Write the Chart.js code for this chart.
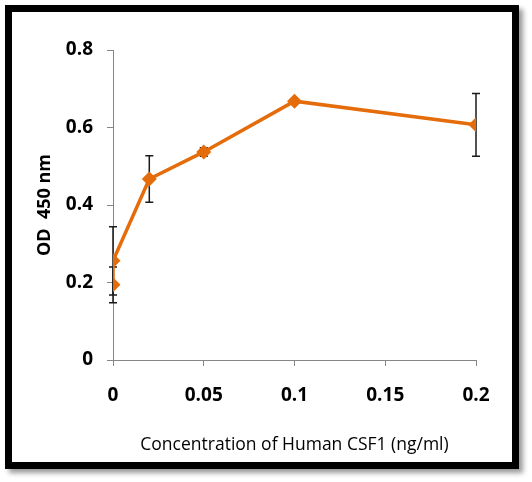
<!DOCTYPE html>
<html>
<head>
<meta charset="utf-8">
<script src="https://cdn.jsdelivr.net/npm/chart.js@4"></script>
<style>
  html, body { margin: 0; padding: 0; background: #fff; }
  #wrap { position: relative; width: 532px; height: 482px; }
  #frame {
    position: absolute; left: 5px; top: 5px; width: 514px; height: 464px;
    box-sizing: border-box; border: 7px solid #000;
    box-shadow: 4px 4px 5px rgba(0, 0, 0, 0.4);
    pointer-events: none;
  }
</style>
</head>
<body>
<div id="wrap">
  <canvas id="myChart" width="532" height="482"></canvas>
  <div id="frame"></div>
</div>
<script>
// concentration (ng/ml), OD 450 nm and error (+/-)
const conc = [0, 0, 0.02, 0.05, 0.1, 0.2]
const od = [0.194, 0.256, 0.467, 0.537, 0.668, 0.607]
const err = [0.046, 0.088, 0.06, 0.011, 0, 0.081]
const xTicks = [0, 0.05, 0.1, 0.15, 0.2]
const xLabels = ["0", "0.05", "0.1", "0.15", "0.2"]
const yTicks = [0, 0.2, 0.4, 0.6, 0.8]
const yLabels = ["0", "0.2", "0.4", "0.6", "0.8"]

const orange = "#E46C0A"
const axisGray = "#868686"

const errorBars = {
  id: "errorBars",
  beforeDatasetsDraw(chart) {
    const { ctx, scales: { x, y } } = chart
    ctx.save()
    ctx.strokeStyle = "#1a1a1a"
    ctx.lineWidth = 1.5
    conc.forEach((c, i) => {
      if (!err[i]) return
      const px = x.getPixelForValue(c)
      const top = y.getPixelForValue(od[i] + err[i])
      const bot = y.getPixelForValue(od[i] - err[i])
      ctx.beginPath()
      ctx.moveTo(px, top)
      ctx.lineTo(px, bot)
      ctx.moveTo(px - 4, top)
      ctx.lineTo(px + 4, top)
      ctx.moveTo(px - 4, bot)
      ctx.lineTo(px + 4, bot)
      ctx.stroke()
    })
    ctx.restore()
  },
}

const tickFont = { family: "Open Sans", size: 19, weight: "bold" }

const ctx = document.getElementById("myChart")
const myChart = new Chart(ctx, {
  type: "scatter",
  data: {
    datasets: [
      {
        data: conc.map((c, i) => ({ x: c, y: od[i] })),
        showLine: true,
        borderColor: orange,
        backgroundColor: orange,
        borderWidth: 3.5,
        pointStyle: "rectRot",
        pointRadius: 7.5,
        pointBorderWidth: 0,
      },
    ],
  },
  options: {
    responsive: false,
    animation: false,
    layout: { padding: { left: 34, right: 56, top: 50, bottom: 26 } },
    scales: {
      x: {
        type: "linear",
        min: 0,
        max: 0.2,
        afterBuildTicks: (s) => { s.ticks = xTicks.map((v) => ({ value: v })) },
        afterFit: (s) => { s.height = 96 },
        ticks: {
          color: "#000",
          padding: 18,
          font: tickFont,
          callback: (v, i) => xLabels[i],
        },
        grid: { drawOnChartArea: false, color: axisGray, tickLength: 6 },
        border: { color: axisGray },
        title: {
          display: true,
          text: "Concentration of Human CSF1 (ng/ml)",
          color: "#000",
          padding: 0,
          font: { family: "Open Sans", size: 17.5 },
        },
      },
      y: {
        min: 0,
        max: 0.8,
        afterBuildTicks: (s) => { s.ticks = yTicks.map((v) => ({ value: v })) },
        afterFit: (s) => { s.width = 79 },
        ticks: {
          color: "#000",
          padding: 14,
          font: tickFont,
          callback: (v, i) => yLabels[i],
        },
        grid: { drawOnChartArea: false, color: axisGray, tickLength: 6 },
        border: { color: axisGray },
        title: {
          display: true,
          text: "OD  450 nm",
          color: "#000",
          padding: 0,
          font: { family: "Open Sans", size: 18, weight: "bold" },
        },
      },
    },
    plugins: {
      legend: { display: false },
      tooltip: { enabled: false },
    },
  },
  plugins: [errorBars],
})
</script>
</body>
</html>
